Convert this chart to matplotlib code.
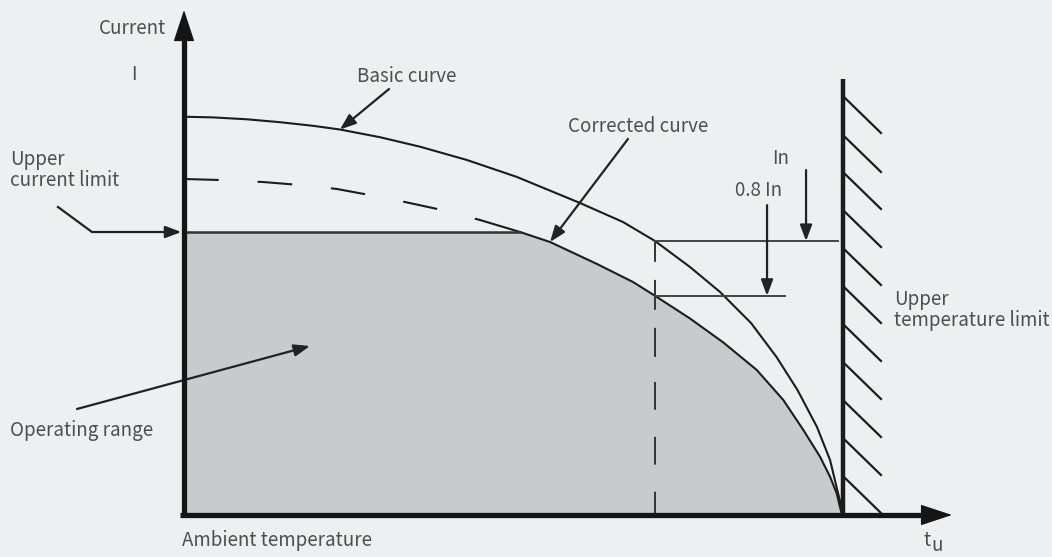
import numpy as np
import matplotlib
matplotlib.use("Agg")
import matplotlib.pyplot as plt

plt.rcParams["font.family"] = ["Noto Sans CJK SC", "DejaVu Sans"]
plt.rcParams["lines.scale_dashes"] = False

# Ambient temperature as a fraction of the upper temperature limit t_u,
# current in units of the rated current In.
basic_t = [0.0, 0.0440, 0.0956, 0.1457, 0.1958, 0.2367, 0.2974, 0.3581, 0.4294,
           0.5053, 0.6009, 0.6662, 0.7147, 0.7678, 0.8134, 0.8604, 0.8991,
           0.9309, 0.9605, 0.9803, 0.9924, 0.9977, 1.0]
basic_i = [1.4536, 1.4511, 1.4442, 1.4336, 1.4204, 1.4069, 1.3788, 1.3442, 1.2956,
           1.2336, 1.1387, 1.0693, 1.0, 0.9051, 0.8139, 0.7007, 0.5766,
           0.4562, 0.3212, 0.2007, 0.0803, 0.0292, 0.0]

corr_t = [0.0, 0.0546, 0.1199, 0.1760, 0.2322, 0.2898, 0.3354, 0.3915, 0.4492,
          0.5099, 0.5554, 0.6267, 0.6813, 0.7147, 0.7678, 0.8184, 0.8691,
          0.9094, 0.9398, 0.9651, 0.9803, 0.9904, 0.9954, 0.9985]
corr_i = [1.2263, 1.2226, 1.2153, 1.2044, 1.1898, 1.1642, 1.1423, 1.1131, 1.0766,
          1.0328, 0.9964, 0.9161, 0.8504, 0.8, 0.7172, 0.6296, 0.5292,
          0.4197, 0.3102, 0.2128, 0.1398, 0.0792, 0.0292, 0.0]

current_limit = 1.0328      # upper current limit
t_check = 0.7147            # temperature where In / 0.8 In are marked
rated = 1.0                 # In
derated = 0.8 * rated       # 0.8 In
dashed_until = 0.4492       # corrected curve is dashed above the current limit
limit_meets_curve = 0.5099

hatch_tops = [1.5219, 1.3796, 1.2445, 1.1058, 0.9672, 0.8285, 0.6898, 0.5511,
              0.4124, 0.2737, 0.1350]

BG = "#eeeff1"
INK = "#1c1c1c"
TXT = "#4e4e4e"
FILL = "#c9cacd"

fig = plt.figure(figsize=(10.52, 5.57), dpi=100, facecolor=BG)
ax = fig.add_axes([0, 0, 1, 1])
ax.set_facecolor(BG)
ax.set_xlim(-0.2792, 1.3171)
ax.set_ylim(-0.1533, 1.8796)
ax.axis("off")

# operating range
ct = np.array(corr_t)
ci = np.array(corr_i)
ax.fill_between(ct, 0, np.minimum(ci, current_limit), color=FILL, lw=0, zorder=1)

# basic curve
ax.plot(basic_t, basic_i, color=INK, lw=1.5, zorder=3, solid_joinstyle="round")

# corrected curve: dashed part above the limit, solid part below
k = corr_t.index(dashed_until)
ax.plot(corr_t[:k + 1], corr_i[:k + 1], color=INK, lw=1.5,
        ls=(0, (25, 28)), zorder=3)
ax.plot(corr_t[k:], corr_i[k:], color=INK, lw=1.5, zorder=3, solid_joinstyle="round")

# upper current limit
ax.plot([0, limit_meets_curve], [current_limit, current_limit],
        color="#333333", lw=1.8, zorder=3)

# In / 0.8 In markers
ax.plot([t_check, t_check], [rated, 0], color="#333333", lw=1.4,
        ls=(0, (15, 13, 21.5, 13, 21, 18, 20, 19.5, 20, 19.5, 18, 40)), zorder=3)
ax.plot([t_check, 0.9924], [rated, rated], color="#444444", lw=1.4, zorder=3)
ax.plot([t_check, 0.912], [derated, derated], color="#444444", lw=1.4, zorder=3)

arrow_small = dict(arrowstyle="-|>,head_length=0.8,head_width=0.3",
                   color="#222222", lw=1.6, shrinkA=0, shrinkB=0, mutation_scale=12)
ax.annotate("", xy=(0.9439, rated), xytext=(0.9439, 1.259), arrowprops=arrow_small, zorder=4)
ax.annotate("", xy=(0.8847, derated), xytext=(0.8847, 1.131), arrowprops=arrow_small, zorder=4)

# upper temperature limit wall with hatching
ax.plot([1.0, 1.0], [0, 1.5912], color=INK, lw=3.2, zorder=4, solid_capstyle="butt")
for top in hatch_tops:
    ax.plot([1.003, 1.0576], [top, top - 0.1277], color=INK, lw=1.6, zorder=4)

# axes: shafts plus arrow heads
ax.plot([0, 0], [-0.008, 1.80], color="#151515", lw=3.8, zorder=5, solid_capstyle="butt")
ax.plot([-0.0055, 1.13], [0, 0], color="#151515", lw=3.8, zorder=5, solid_capstyle="butt")
arrow_head = dict(arrowstyle="-|>,head_length=1.45,head_width=0.48",
                  color="#151515", lw=1.0, shrinkA=0, shrinkB=0, mutation_scale=14)
ax.annotate("", xy=(0, 1.843), xytext=(0, 1.76), arrowprops=arrow_head, zorder=5)
ax.annotate("", xy=(1.1654, 0), xytext=(1.12, 0), arrowprops=arrow_head, zorder=5)

# annotation pointers
ax.annotate("", xy=(0.2367, 1.4069), xytext=(0.3111, 1.5547), arrowprops=arrow_small, zorder=4)
ax.annotate("", xy=(0.5554, 0.9964), xytext=(0.6737, 1.3723), arrowprops=arrow_small, zorder=4)
ax.annotate("", xy=(0.1912, 0.6168), xytext=(-0.1624, 0.3869), arrowprops=arrow_small, zorder=4)
ax.plot([-0.1912, -0.1396, -0.02], [1.1241, current_limit, current_limit],
        color="#222222", lw=1.6, zorder=4)
ax.annotate("", xy=(-0.004, current_limit), xytext=(-0.03, current_limit),
            arrowprops=arrow_small, zorder=4)

fs = 13.5
tk = dict(color=TXT, fontsize=fs, va="center", ha="left")
ax.text(-0.129, 1.7774, "Current", **tk)
ax.text(-0.0804, 1.6095, "I", **tk)
ax.text(-0.264, 1.259, "Upper\ncurrent limit", linespacing=1.05, **tk)
ax.text(0.2625, 1.6022, "Basic curve", **tk)
ax.text(0.5827, 1.4197, "Corrected curve", **tk)
ax.text(0.8923, 1.3029, "In", **tk)
ax.text(0.8361, 1.1861, "0.8 In", **tk)
ax.text(1.0774, 0.7482, "Upper\ntemperature limit", linespacing=1.05, **tk)
ax.text(-0.264, 0.3102, "Operating range", **tk)
ax.text(-0.003, -0.0949, "Ambient temperature", **tk)
ax.text(1.1214, -0.0949, "t", **tk)
ax.text(1.1335, -0.1496, "u", **{**tk, "va": "bottom"})

fig.savefig("out.png", dpi=100, facecolor=BG)
